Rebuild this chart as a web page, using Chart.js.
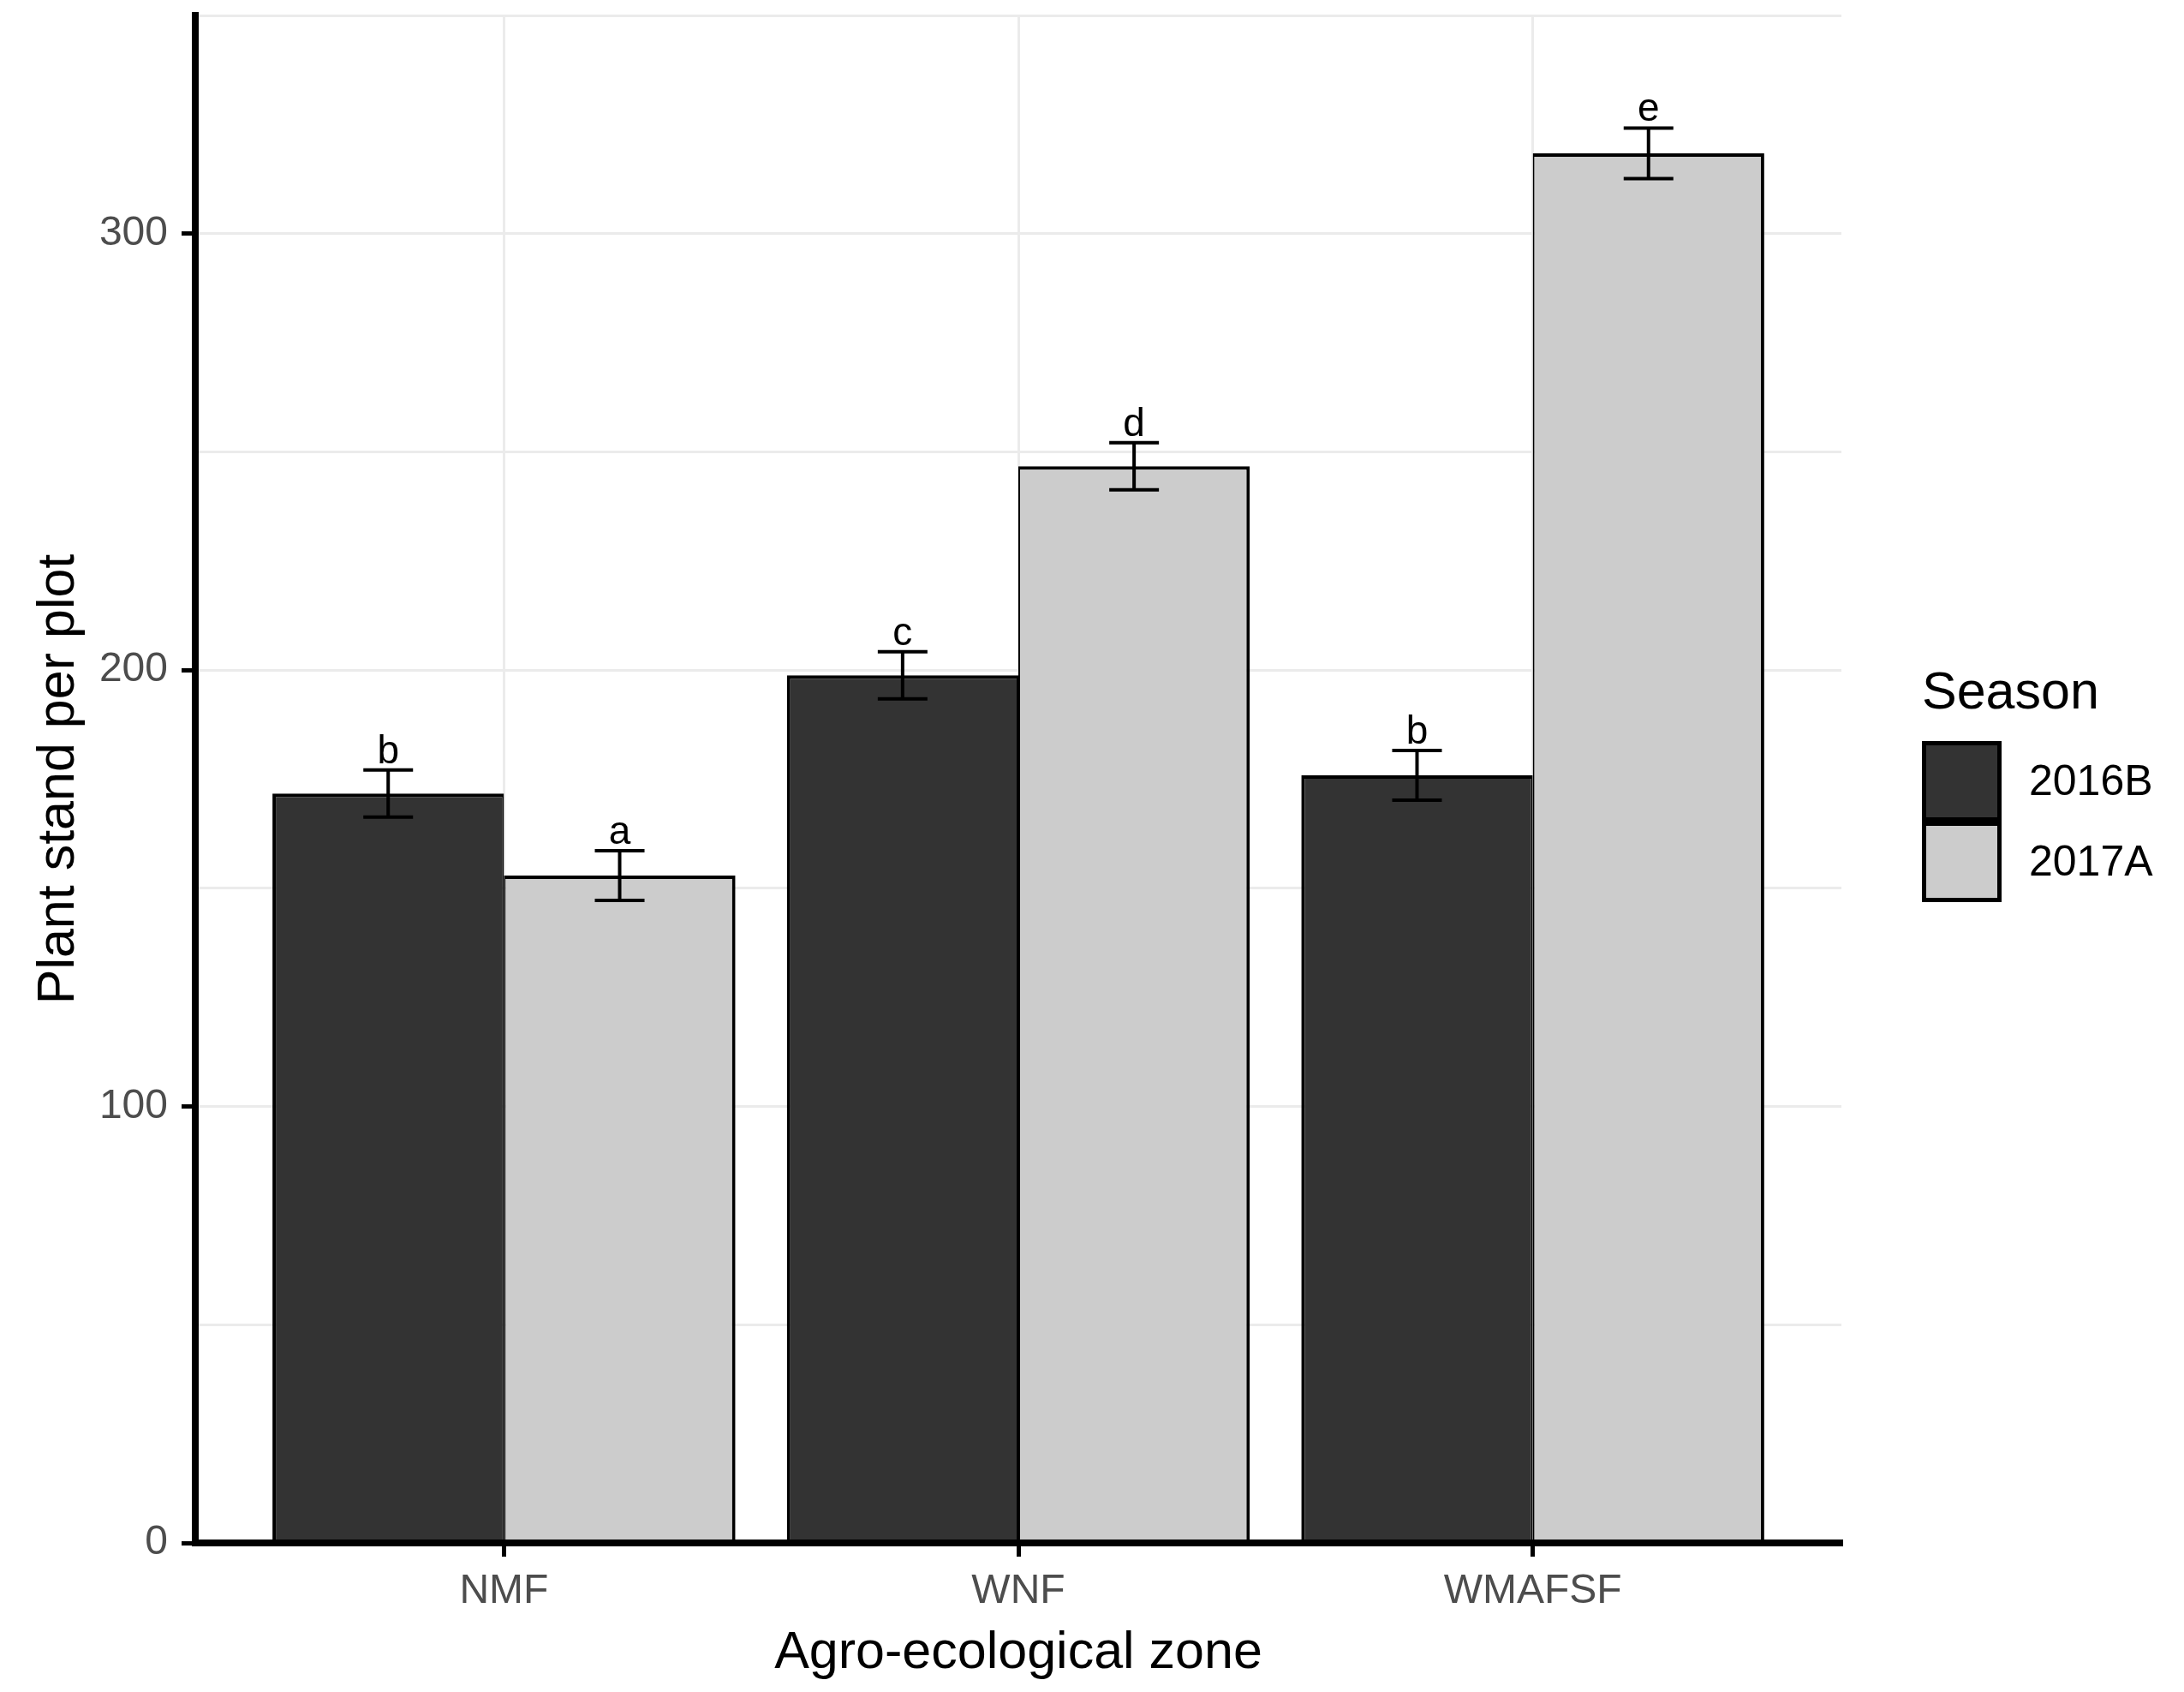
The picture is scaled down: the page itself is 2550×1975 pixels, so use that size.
<!DOCTYPE html>
<html lang="en">
<head>
<meta charset="UTF-8">
<title>Plant stand per plot</title>
<script src="https://cdn.jsdelivr.net/npm/chart.js"></script>
<style>
    html, body { margin: 0; padding: 0; background: #fff; }
    canvas { display: block; }
</style>
</head>
<body>
<canvas id="grafico" width="2550" height="1975"></canvas>
<script>
var zones = ['NMF', 'WNF', 'WMAFSF']
var seasons = ['2016B', '2017A']
var stand2016B = [171.7, 198.8, 175.9]
var stand2017A = [152.9, 246.7, 318.4]
var err2016B = [5.4, 5.4, 5.7]
var err2017A = [5.7, 5.4, 5.8]
var letters2016B = ['b', 'c', 'b']
var letters2017A = ['a', 'd', 'e']
var yTicks = [0, 50, 100, 150, 200, 250, 300, 350]
var yLabelled = [0, 100, 200, 300]

Chart.defaults.font.family = '"Liberation Sans", Arial, sans-serif'

function toPoints(vals) {
    return vals.map(function (v, i) { return { x: i, y: v } })
}

// error bars + letters on top of the bars
var errorBars = {
    id: 'errorBars',
    afterDatasetsDraw: function (chart) {
        var ctx = chart.ctx
        var y = chart.scales.y
        chart.data.datasets.forEach(function (ds, d) {
            var meta = chart.getDatasetMeta(d)
            meta.data.forEach(function (bar, i) {
                var v = ds.data[i].y
                var top = y.getPixelForValue(v + ds.errors[i])
                var bottom = y.getPixelForValue(v - ds.errors[i])
                ctx.save()
                ctx.strokeStyle = '#000'
                ctx.lineWidth = 4
                ctx.beginPath()
                ctx.moveTo(bar.x, top)
                ctx.lineTo(bar.x, bottom)
                ctx.moveTo(bar.x - 29, top)
                ctx.lineTo(bar.x + 29, top)
                ctx.moveTo(bar.x - 29, bottom)
                ctx.lineTo(bar.x + 29, bottom)
                ctx.stroke()
                ctx.fillStyle = '#000'
                ctx.font = '46px "Liberation Sans"'
                ctx.textAlign = 'center'
                ctx.textBaseline = 'alphabetic'
                ctx.fillText(ds.letters[i], bar.x, top - 8)
                ctx.restore()
            })
        })
    }
}

// ggplot style legend, keys touching each other
var seasonLegend = {
    id: 'seasonLegend',
    afterDraw: function (chart) {
        var ctx = chart.ctx
        ctx.save()
        ctx.fillStyle = '#000'
        ctx.textAlign = 'left'
        ctx.textBaseline = 'middle'
        ctx.font = '61px "Liberation Sans"'
        ctx.fillText('Season', 2244, 810)
        chart.data.datasets.forEach(function (ds, i) {
            var top = 865 + i * 94
            ctx.fillStyle = ds.backgroundColor
            ctx.fillRect(2244, top, 93, 94)
            ctx.lineWidth = 5
            ctx.strokeStyle = '#000'
            ctx.strokeRect(2246.5, top + 2.5, 88, 89)
            ctx.fillStyle = '#000'
            ctx.font = '50px "Liberation Sans"'
            ctx.fillText(ds.label, 2369, top + 49)
        })
        ctx.restore()
    }
}

var grafico = new Chart(document.getElementById('grafico'), {
    type: 'bar',
    data: {
        datasets: [{
            label: seasons[0],
            data: toPoints(stand2016B),
            errors: err2016B,
            letters: letters2016B,
            backgroundColor: '#333333',
            borderColor: '#000',
            borderWidth: { top: 4, left: 4, right: 2, bottom: 0 },
            borderSkipped: false
        }, {
            label: seasons[1],
            data: toPoints(stand2017A),
            errors: err2017A,
            letters: letters2017A,
            backgroundColor: '#cccccc',
            borderColor: '#000',
            borderWidth: { top: 4, left: 2, right: 4, bottom: 0 },
            borderSkipped: false
        }]
    },
    options: {
        responsive: false,
        animation: false,
        devicePixelRatio: 1,
        categoryPercentage: 0.9,
        barPercentage: 1.0,
        layout: { padding: { left: 0, right: 400, top: 18, bottom: 0 } },
        plugins: {
            legend: { display: false },
            tooltip: { enabled: false }
        },
        scales: {
            x: {
                type: 'linear',
                min: -0.6,
                max: 2.6,
                offset: false,
                afterBuildTicks: function (scale) {
                    scale.ticks = zones.map(function (z, i) { return { value: i } })
                },
                afterFit: function (scale) {
                    scale.height = 174
                    scale.paddingLeft = 0
                    scale.paddingRight = 0
                },
                ticks: {
                    autoSkip: false,
                    maxRotation: 0,
                    padding: 12,
                    color: '#4d4d4d',
                    font: { size: 48 },
                    callback: function (v) { return zones[v] }
                },
                grid: {
                    offset: false,
                    color: '#ebebeb',
                    lineWidth: 3,
                    tickLength: 16,
                    tickColor: '#000',
                    tickWidth: 5
                },
                border: { display: true, color: '#000', width: 8, z: 1 },
                title: {
                    display: true,
                    text: 'Agro-ecological zone',
                    color: '#000',
                    font: { size: 61 },
                    padding: { top: 0, bottom: 8 }
                }
            },
            y: {
                min: 0,
                max: 350,
                afterBuildTicks: function (scale) {
                    scale.ticks = yTicks.map(function (v) { return { value: v } })
                },
                afterFit: function (scale) {
                    scale.width = 228
                    scale.paddingTop = 0
                    scale.paddingBottom = 0
                },
                ticks: {
                    padding: 16,
                    color: '#4d4d4d',
                    font: { size: 48 },
                    callback: function (v) { return yLabelled.indexOf(v) >= 0 ? String(v) : '' }
                },
                grid: {
                    color: '#ebebeb',
                    lineWidth: 3,
                    tickLength: 16,
                    tickWidth: 5,
                    tickColor: function (c) {
                        return c.tick && yLabelled.indexOf(c.tick.value) >= 0 ? '#000' : 'rgba(0,0,0,0)'
                    }
                },
                border: { display: true, color: '#000', width: 8, z: 1 },
                title: {
                    display: true,
                    text: 'Plant stand per plot',
                    color: '#000',
                    font: { size: 61 },
                    padding: { top: 33, bottom: 0 }
                }
            }
        }
    },
    plugins: [errorBars, seasonLegend]
})
</script>
</body>
</html>
